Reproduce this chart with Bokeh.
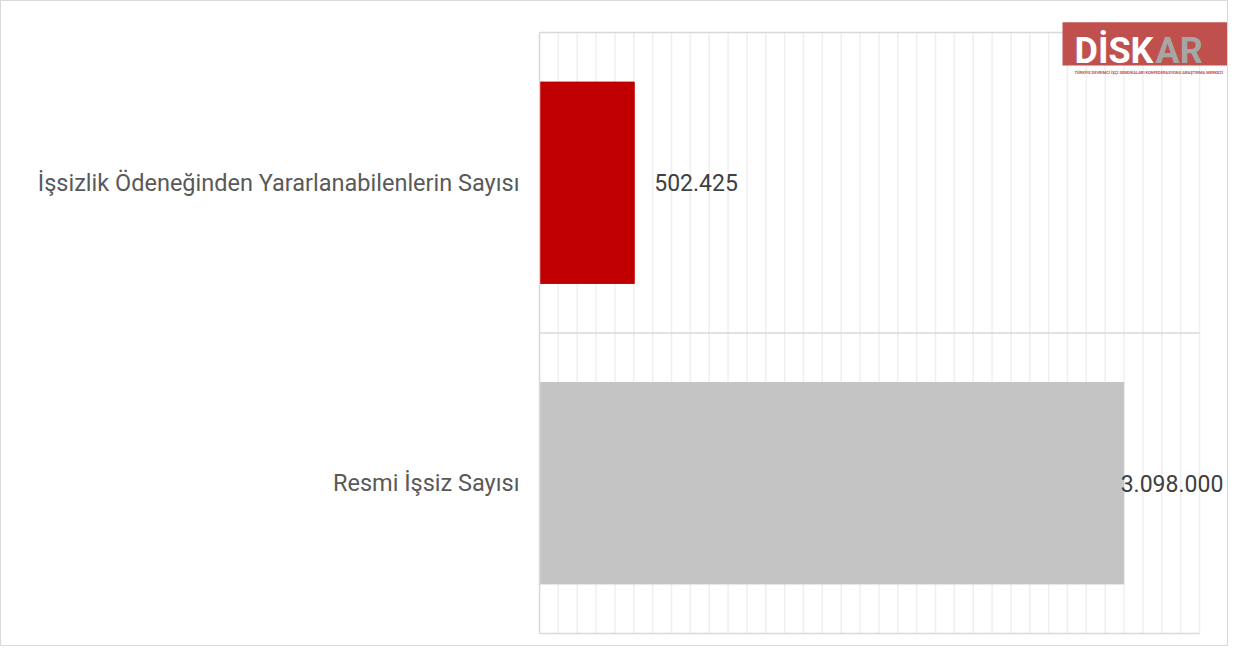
from bokeh.plotting import figure
from bokeh.models import FixedTicker, Label, ColumnDataSource, Range1d
from bokeh.embed import file_html
from bokeh.resources import INLINE
from bokeh.core.properties import value

categories = ["İşsizlik Ödeneğinden Yararlanabilenlerin Sayısı", "Resmi İşsiz Sayısı"]
counts = [502425, 3098000]
bar_colors = ["#c00000", "#c4c4c4"]
x_max = 3500000
grid_step = 100000

n = len(categories)
ypos = [n - 1 - i + 0.5 for i in range(n)]
labels = [f"{v:,}".replace(",", ".") for v in counts]
label_offsets = [20, -3]

# layout (canvas pixels)
W, H = 1228, 646
left_px = 538          # x = 0
right_px = 1198        # x = x_max
top_px = 31            # y = n
bottom_px = 632        # y = 0
ppu_y = (bottom_px - top_px) / n
ppu_x = (right_px - left_px) / x_max

p = figure(width=W, height=H, output_backend="svg", toolbar_location=None,
           x_range=Range1d(0, (W - left_px) / ppu_x),
           y_range=Range1d(-(H - bottom_px) / ppu_y, n + top_px / ppu_y),
           x_axis_location=None,
           min_border_left=left_px, min_border_right=0, min_border_top=0, min_border_bottom=0)
p.outline_line_color = None
p.styles = {"border": "1px solid #d9d9d9"}
p.xgrid.visible = False
p.ygrid.visible = False

# grid lines
gx = list(range(0, x_max + 1, grid_step))
p.segment(x0=gx, y0=[0] * len(gx), x1=gx, y1=[n] * len(gx), line_color="#efefef", line_width=1.5)
gy = list(range(0, n + 1))
p.segment(x0=[0] * len(gy), y0=gy, x1=[x_max] * len(gy), y1=gy, line_color="#d9d9d9", line_width=1.5)

src = ColumnDataSource(dict(y=ypos, v=counts, c=bar_colors, t=labels, off=label_offsets))
p.hbar(y="y", left=0, right="v", height=0.67, color="c", source=src)
p.text(x="v", y="y", text="t", x_offset="off", source=src,
       text_font=value("Roboto"), text_font_size="23px", text_color="#404040",
       text_align="left", text_baseline="middle")

p.yaxis.bounds = (0, n)
p.yaxis.ticker = FixedTicker(ticks=ypos)
p.yaxis.major_label_overrides = {y: c for y, c in zip(ypos, categories)}
p.yaxis.axis_line_color = "#d9d9d9"
p.yaxis.axis_line_width = 1.5
p.yaxis.major_tick_line_color = None
p.yaxis.minor_tick_line_color = None
p.yaxis.major_label_text_font = "Roboto"
p.yaxis.major_label_text_font_size = "23.5px"
p.yaxis.major_label_text_color = "#595959"
p.yaxis.major_label_standoff = 14

# logo (screen units relative to frame: x from frame left, y up from frame bottom)
logo_red = "#c0504d"
p.add_layout(Label(x=523, y=582, x_units="screen", y_units="screen", text=" ",
                   text_font="Roboto", text_font_size="1px",
                   text_color=logo_red, text_align="left", text_baseline="bottom",
                   background_fill_color=logo_red,
                   padding=dict(left=0, right=165, top=42, bottom=0)))
p.add_layout(Label(x=535, y=597, x_units="screen", y_units="screen", text="DİSK",
                   text_font="Roboto", text_font_size="36px", text_font_style="bold",
                   text_color="white", text_align="left", text_baseline="alphabetic"))
p.add_layout(Label(x=616, y=597, x_units="screen", y_units="screen", text="AR",
                   text_font="Roboto", text_font_size="36px", text_font_style="bold",
                   text_color="#a6a6a6", text_align="left", text_baseline="alphabetic"))
p.add_layout(Label(x=535, y=575, x_units="screen", y_units="screen",
                   text="TÜRKİYE DEVRİMCİ İŞÇİ SENDİKALARI KONFEDERASYONU ARAŞTIRMA MERKEZİ",
                   text_font="Roboto", text_font_size="4px", text_font_style="bold",
                   text_color=logo_red, text_align="left", text_baseline="middle"))

open("out.html", "w").write(file_html(p, INLINE))
